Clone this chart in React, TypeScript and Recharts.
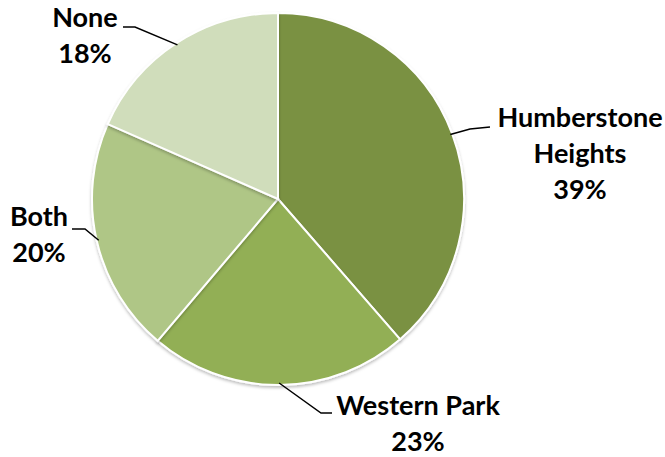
import React from 'react'
import { PieChart, Pie, Cell } from 'recharts'

// answer categories and share of respondents (%), labels show the rounded value
const categories = ['Humberstone Heights', 'Western Park', 'Both', 'None']
const shares = [38.6, 22.6, 20.4, 18.4]
const labelLines = [['Humberstone', 'Heights'], ['Western Park'], ['Both'], ['None']]

const colors = ['#7A9143', '#92AF54', '#AFC686', '#D0DDBB']

// where each label sits: elbow of the leader line, end of the line, text centre and first baseline
const labelLayout = [
  { elbow: [470, 129], end: [490, 127], tx: 580, ty: 127 },
  { elbow: [321, 413], end: [332, 413], tx: 418, ty: 415 },
  { elbow: [85, 229], end: [72, 229], tx: 39, ty: 226 },
  { elbow: [135, 27], end: [123, 27], tx: 85, ty: 27 },
]

const data = categories.map((name, i) => ({ name, value: shares[i] }))

const RAD = Math.PI / 180

function renderLabel(props: any) {
  const { cx, cy, midAngle, outerRadius, index, percent } = props
  const sx = cx + (outerRadius - 2) * Math.cos(-midAngle * RAD)
  const sy = cy + (outerRadius - 2) * Math.sin(-midAngle * RAD)
  const l = labelLayout[index]
  const lines = [...labelLines[index], `${Math.round(percent * 100)}%`]
  return (
    <g key={`lbl-${index}`}>
      <polyline
        points={`${sx},${sy} ${l.elbow[0]},${l.elbow[1]} ${l.end[0]},${l.end[1]}`}
        fill="none"
        stroke="#000"
        strokeWidth={1.5}
      />
      <text
        x={l.tx}
        y={l.ty}
        textAnchor="middle"
        fill="#000"
        fontFamily="Lato, 'Open Sans', sans-serif"
        fontWeight={700}
        fontSize={27}
      >
        {lines.map((t, j) => (
          <tspan key={j} x={l.tx} y={l.ty + j * 36}>
            {t}
          </tspan>
        ))}
      </text>
    </g>
  )
}

export default function App() {
  return (
    <div style={{ position: 'absolute', left: 0, top: 0, width: 665, height: 457, background: '#fff' }}>
      <PieChart width={665} height={457} margin={{ top: 0, right: 0, bottom: 0, left: 0 }}>
        <defs>
          <filter id="pieShadow" x="-10%" y="-10%" width="120%" height="120%">
            <feDropShadow dx="0" dy="2" stdDeviation="1.8" floodColor="#000" floodOpacity="0.25" />
          </filter>
        </defs>
        <Pie
          data={data}
          dataKey="value"
          nameKey="name"
          cx={278}
          cy={199}
          outerRadius={186}
          startAngle={90}
          endAngle={-270}
          stroke="#fff"
          strokeWidth={2}
          label={renderLabel}
          labelLine={false}
          isAnimationActive={false}
          style={{ filter: 'url(#pieShadow)' }}
        >
          {data.map((d, i) => (
            <Cell key={d.name} fill={colors[i]} />
          ))}
        </Pie>
      </PieChart>
    </div>
  )
}
